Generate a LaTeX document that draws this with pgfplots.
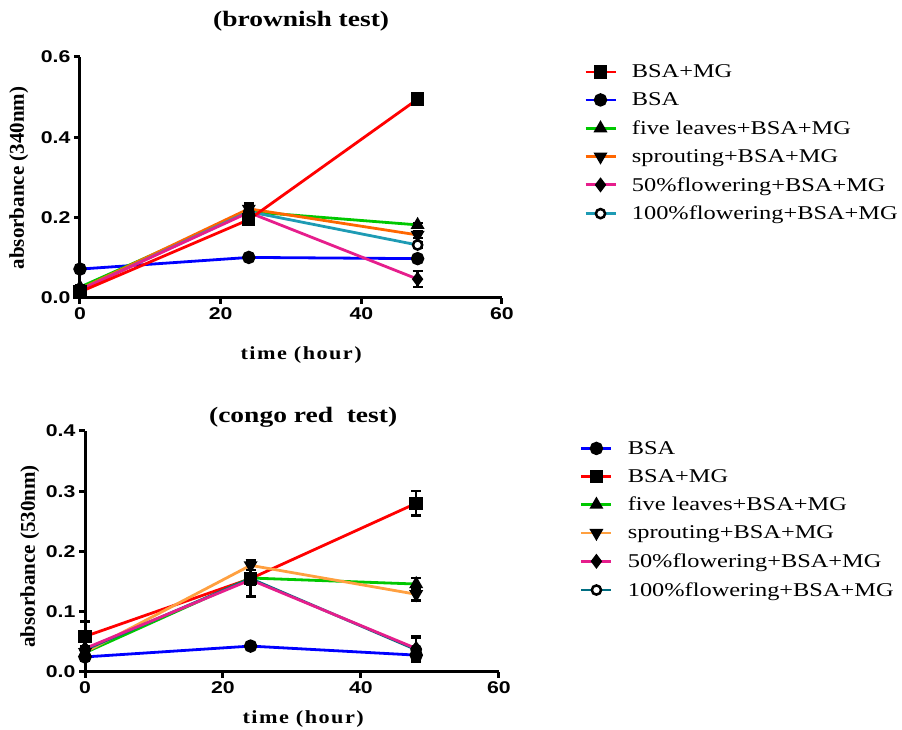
\documentclass[border=0pt]{standalone}
\usepackage{fontspec}
\setmainfont{Liberation Serif}
\setsansfont{Liberation Sans}
\newfontfamily\tickfont[FakeStretch=1.25]{Liberation Sans}
\newfontfamily\sserif[FakeStretch=1.25]{Liberation Serif}
\newfontfamily\xlabfont[FakeStretch=1.2,LetterSpace=8]{Liberation Serif}
\usepackage{pgfplots}
\pgfplotsset{compat=1.18}
\definecolor{cred}{RGB}{255,0,0}
\definecolor{cblue}{RGB}{0,0,255}
\definecolor{cgreen}{RGB}{0,200,0}
\definecolor{corange}{RGB}{255,102,0}
\definecolor{corangeb}{RGB}{255,160,64}
\definecolor{cpink}{RGB}{230,30,140}
\definecolor{cteal}{RGB}{30,155,180}
\definecolor{ctealb}{RGB}{0,110,130}
\pgfplotsset{
  gp/.style={
    scale only axis, clip=false,
    axis x line*=bottom, axis y line*=left,
    axis line style={line width=3pt,-},
    tick align=outside, major tick length=6pt,
    tick style={line width=3pt,black},
    xmin=0, xmax=60, xtick={0,20,40,60},
    /pgf/number format/assume math mode=true,
    ticklabel style={font=\fontsize{17}{17}\tickfont\bfseries},
    yticklabel style={/pgf/number format/.cd,fixed,fixed zerofill,precision=1},
    xlabel style={font=\fontsize{18.5}{18}\xlabfont\bfseries},
    ylabel style={font=\fontsize{21}{21}\selectfont\bfseries},
    title style={font=\fontsize{22}{22}\sserif\bfseries},
    every axis plot/.append style={line width=2.8pt, mark size=5.3pt},
    legend style={draw=none, fill=none, anchor=north west,
      font=\fontsize{19.5}{22}\sserif, row sep=9.5pt,
      /tikz/every odd column/.append style={column sep=13pt}},
    legend cell align=left,
    legend image code/.code={\draw[mark repeat=2,mark phase=2] plot coordinates {(0pt,0pt)(15pt,0pt)(30pt,0pt)};},
    error bars/error bar style={line width=2.5pt,black,solid},
    error bars/error mark options={line width=2.5pt,black,mark size=5pt,rotate=90},
  },
  eb/.style={error bars/.cd, y dir=both, y explicit},
  mk/.style={mark options={fill=black,draw=black,solid}},
  dn/.style={mark options={fill=black,draw=black,solid,rotate=180}},
  oc/.style={mark options={fill=white,draw=black,solid,line width=2.5pt,mark size=4.6pt}},
}
\begin{document}
\begin{tikzpicture}
\useasboundingbox (0,0) rectangle (902pt,730pt);
% ---------- top panel ----------
\begin{axis}[gp, at={(80pt,432pt)}, anchor=south west,
  width=422pt, height=241pt,
  ymin=0, ymax=0.6, ytick={0,0.2,0.4,0.6},
  title={(brownish test)},
  title style={at={(axis description cs:0.524,1)}, anchor=south, yshift=16pt},
  xlabel={time (hour)},
  xlabel style={at={(axis description cs:0.524,0)}, anchor=center, yshift=-57pt},
  ylabel={absorbance (340nm)},
  ylabel style={at={(axis description cs:-0.145,0.498)}, anchor=center},
  legend style={at={(1.187,0.985)}},
]
\addplot[forget plot, cblue, mark=*, mk, eb] coordinates {(0,0.072) +- (0,0.010) (24,0.101) +- (0,0.004) (48,0.098) +- (0,0.004)};
\addplot[forget plot, cgreen, mark=triangle*, mk, eb] coordinates {(0,0.027) +- (0,0.004) (24,0.215) +- (0,0.010) (48,0.182) +- (0,0.005)};
\addplot[forget plot, corange, mark=triangle*, dn, eb] coordinates {(0,0.022) +- (0,0.004) (24,0.222) +- (0,0.013) (48,0.157) +- (0,0.008)};
\addplot[forget plot, cteal, mark=*, oc, eb] coordinates {(0,0.020) +- (0,0.004) (24,0.215) +- (0,0.010) (48,0.132) +- (0,0.006)};
\addplot[forget plot, cpink, mark=diamond*, mk, eb] coordinates {(0,0.020) +- (0,0.004) (24,0.213) +- (0,0.010) (48,0.047) +- (0,0.020)};
\addplot[forget plot, cred, mark=square*, mk, eb] coordinates {(0,0.015) +- (0,0.005) (24,0.195) +- (0,0.010) (48,0.495) +- (0,0.004)};
\addlegendimage{cred, mark=square*, mk}\addlegendentry{BSA+MG}
\addlegendimage{cblue, mark=*, mk}\addlegendentry{BSA}
\addlegendimage{cgreen, mark=triangle*, mk}\addlegendentry{five leaves+BSA+MG}
\addlegendimage{corange, mark=triangle*, dn}\addlegendentry{sprouting+BSA+MG}
\addlegendimage{cpink, mark=diamond*, mk}\addlegendentry{50\%flowering+BSA+MG}
\addlegendimage{cteal, mark=*, oc}\addlegendentry{100\%flowering+BSA+MG}
\end{axis}
% ---------- bottom panel ----------
\begin{axis}[gp, at={(85pt,58pt)}, anchor=south west,
  width=414pt, height=241pt,
  ymin=0, ymax=0.4, ytick={0,0.1,0.2,0.3,0.4},
  title={(congo red \ test)},
  title style={at={(axis description cs:0.527,1)}, anchor=south, yshift=-6pt},
  xlabel={time (hour)},
  xlabel style={at={(axis description cs:0.527,0)}, anchor=center, yshift=-47pt},
  ylabel={absorbance (530nm)},
  ylabel style={at={(axis description cs:-0.133,0.48)}, anchor=center},
  legend style={at={(1.188,0.975)}},
]
\addplot[forget plot, cblue, mark=*, mk, eb] coordinates {(0,0.025) +- (0,0.004) (24,0.043) +- (0,0.003) (48,0.028) +- (0,0.010)};
\addplot[forget plot, cred, mark=square*, mk, eb] coordinates {(0,0.059) +- (0,0.025) (24,0.155) +- (0,0.030) (48,0.280) +- (0,0.020)};
\addplot[forget plot, cgreen, mark=triangle*, mk, eb] coordinates {(0,0.032) +- (0,0.004) (24,0.156) +- (0,0.008) (48,0.146) +- (0,0.010)};
\addplot[forget plot, corangeb, mark=triangle*, dn, eb] coordinates {(0,0.033) +- (0,0.004) (24,0.177) +- (0,0.008) (48,0.129) +- (0,0.010)};
\addplot[forget plot, ctealb, mark=*, oc, eb] coordinates {(0,0.037) +- (0,0.004) (24,0.155) +- (0,0.008) (48,0.037) +- (0,0.020)};
\addplot[forget plot, cpink, mark=diamond*, mk, eb] coordinates {(0,0.039) +- (0,0.004) (24,0.153) +- (0,0.008) (48,0.039) +- (0,0.020)};
\addlegendimage{cblue, mark=*, mk}\addlegendentry{BSA}
\addlegendimage{cred, mark=square*, mk}\addlegendentry{BSA+MG}
\addlegendimage{cgreen, mark=triangle*, mk}\addlegendentry{five leaves+BSA+MG}
\addlegendimage{corangeb, mark=triangle*, dn}\addlegendentry{sprouting+BSA+MG}
\addlegendimage{cpink, mark=diamond*, mk}\addlegendentry{50\%flowering+BSA+MG}
\addlegendimage{ctealb, mark=*, oc}\addlegendentry{100\%flowering+BSA+MG}
\end{axis}
\end{tikzpicture}
\end{document}
